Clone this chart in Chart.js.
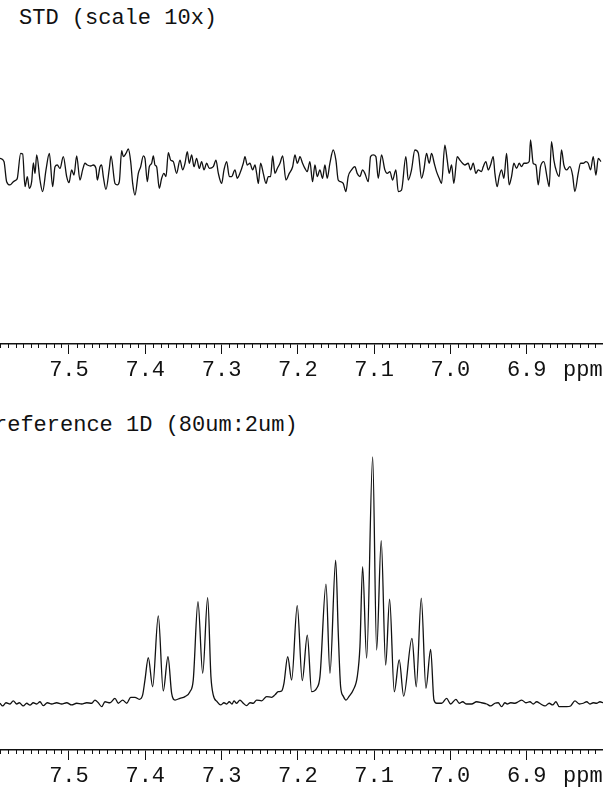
<!DOCTYPE html>
<html>
<head>
<meta charset="utf-8">
<script src="https://cdn.jsdelivr.net/npm/chart.js@4/dist/chart.umd.min.js"></script>
<style>
  html, body { margin: 0; padding: 0; background: #fff; }
  body { width: 603px; height: 788px; position: relative; overflow: hidden; }
  canvas { position: absolute; left: 0; }
  .lbl { position: absolute; font-family: 'Liberation Mono', 'Courier New', monospace; font-size: 22px; line-height: 1; color: #111; white-space: pre; }
</style>
</head>
<body>
<div class="lbl" style="left:19px; top:8px;">STD (scale 10x)</div>
<canvas id="stdChart" width="603" height="390" style="top:0px;"></canvas>
<div class="lbl" style="left:563px; top:360px;">ppm</div>

<div class="lbl" style="left:-6px; top:415px;">reference 1D (80um:2um)</div>
<canvas id="refChart" width="603" height="390" style="top:406px;"></canvas>
<div class="lbl" style="left:563px; top:766px;">ppm</div>

<script>
'use strict';

/* ---- DATA ------------------------------------------------- */
// axis ticks (ppm, reversed axis)
const majorTicks = [7.5, 7.4, 7.3, 7.2, 7.1, 7.0, 6.9];
const ppmMin = 6.80;
const ppmMax = 7.5904;

// STD difference spectrum, scaled 10x (ppm / relative intensity)
const stdPpm = [
  7.5904, 7.5852, 7.5817, 7.5773, 7.5729, 7.5694, 7.5677, 7.5633, 7.5607, 7.5576,
  7.5546, 7.5520, 7.5489, 7.5467, 7.5445, 7.5423, 7.5380, 7.5345, 7.5301, 7.5257,
  7.5214, 7.5183, 7.5153, 7.5118, 7.5074, 7.5030, 7.5000, 7.4965, 7.4934, 7.4899,
  7.4856, 7.4821, 7.4790, 7.4759, 7.4716, 7.4681, 7.4646, 7.4628, 7.4593, 7.4572,
  7.4550, 7.4515, 7.4471, 7.4449, 7.4397, 7.4366, 7.4340, 7.4309, 7.4288, 7.4253,
  7.4222, 7.4191, 7.4165, 7.4135, 7.4091, 7.4060, 7.4025, 7.4004, 7.3973, 7.3947,
  7.3916, 7.3894, 7.3873, 7.3851, 7.3816, 7.3785, 7.3755, 7.3728, 7.3698, 7.3667,
  7.3632, 7.3589, 7.3545, 7.3510, 7.3479, 7.3449, 7.3423, 7.3392, 7.3361, 7.3327,
  7.3292, 7.3261, 7.3230, 7.3195, 7.3160, 7.3108, 7.3073, 7.3042, 7.2999, 7.2968,
  7.2933, 7.2898, 7.2868, 7.2824, 7.2794, 7.2759, 7.2715, 7.2693, 7.2663, 7.2628,
  7.2593, 7.2562, 7.2540, 7.2518, 7.2488, 7.2453, 7.2418, 7.2387, 7.2357, 7.2330,
  7.2300, 7.2269, 7.2234, 7.2199, 7.2156, 7.2112, 7.2068, 7.2038, 7.2007, 7.1981,
  7.1973, 7.1938, 7.1907, 7.1877, 7.1842, 7.1807, 7.1776, 7.1746, 7.1711, 7.1676,
  7.1645, 7.1615, 7.1580, 7.1536, 7.1501, 7.1471, 7.1440, 7.1405, 7.1370, 7.1340,
  7.1296, 7.1252, 7.1222, 7.1187, 7.1152, 7.1121, 7.1077, 7.1047, 7.1012, 7.0977,
  7.0946, 7.0903, 7.0859, 7.0828, 7.0793, 7.0758, 7.0715, 7.0684, 7.0641, 7.0584,
  7.0553, 7.0510, 7.0466, 7.0422, 7.0378, 7.0348, 7.0313, 7.0278, 7.0247, 7.0212,
  7.0182, 7.0147, 7.0116, 7.0073, 7.0042, 7.0016, 6.9985, 6.9955, 6.9911, 6.9876,
  6.9841, 6.9811, 6.9767, 6.9736, 6.9701, 6.9666, 6.9636, 6.9592, 6.9570, 6.9535,
  6.9505, 6.9474, 6.9439, 6.9417, 6.9387, 6.9361, 6.9330, 6.9299, 6.9264, 6.9230,
  6.9199, 6.9168, 6.9133, 6.9098, 6.9068, 6.9037, 6.9002, 6.8967, 6.8950, 6.8915,
  6.8880, 6.8849, 6.8819, 6.8775, 6.8731, 6.8705, 6.8675, 6.8644, 6.8609, 6.8574,
  6.8544, 6.8513, 6.8478, 6.8434, 6.8399, 6.8369, 6.8325, 6.8294, 6.8259, 6.8224,
  6.8194, 6.8163, 6.8128, 6.8093, 6.8062, 6.8027
];
const stdInt = [
   2.7,  1.4, -6.8, -8.1, -6.8, -6.1, -5.4,  4.7,  4.5, -8.8,
  -4.7, -9.5, -6.8,  0.9, -3.4,  4.1, -6.1,-10.8, -2.0,  4.7,
  -8.8, -0.7,  0.0, -1.4,  3.4, -4.7, -7.2, -2.0, -4.1,  3.7,
  -6.1, -2.0,  0.7,  0.0, -0.4,  0.0, -1.4, -6.1, -0.7,  0.0,
  -4.7, -9.9, -1.4,  3.7, -7.5, -8.1, -6.8,  5.8,  3.4,  4.7,
   6.5,  1.4, -7.5,-12.2, -3.4, -0.7,  3.7,  2.7, -6.8, -0.7,
   0.7,  3.7,  0.0, -0.7, -9.5, -5.4, -3.4, -4.7,  5.0,  2.0,
   1.4, -3.4,  2.0, -2.0,  0.7,  5.4,  0.7,  4.1, -0.7,  2.7,
  -1.4,  1.4, -2.0,  0.7, -1.4, -0.7,  2.0, -3.4, -7.5, -2.0,
   1.4, -4.7, -4.7, -2.0, -5.4, -3.4,  0.7,  3.4,  0.0,  0.7,
  -2.0,  0.0, -3.4, -7.5,  0.7, -3.4, -7.5, -4.7, -4.7,  3.7,
  -3.4, -1.4,  0.7,  3.7, -6.1, -3.4, -0.7,  4.1,  0.7,  2.7,
   3.4,  0.7, -1.4, -2.7,  1.4, -6.8,  0.0, -4.7, -2.0, -5.4,
   0.0, -5.4,  0.7,  6.1,  2.0, -6.1, -6.8, -7.5,-10.8, -4.7,
  -2.0, -0.7, -3.4, -4.7, -2.0, -3.4, -6.8,  3.4,  4.1,  3.4,
  -5.4,  4.1, -2.0, -3.4, -2.7, -6.1, -2.0,-10.8,-10.2,  3.4,
  -6.1, -2.0,  6.1,  5.0, -5.4, -2.0,  4.7,  0.7,  4.7,  0.7,
  -2.7, -5.4, -7.5,  8.1,  2.0, -3.4,  0.0, -7.5,  3.4,  2.0,
   0.7,  0.0,  0.7, -2.0,  0.7, -3.4, -2.0, -2.7, -0.7,  1.4,
  -2.0,  0.0,  3.4, -3.4, -8.8, -4.7, -2.0, -5.4,  4.7, -8.1,
  -4.7,  0.7, -1.4,  0.7, -0.7,  0.7,  0.7,  1.4, 10.2,  0.7,
   0.0, -8.1, -0.7,  1.4, -5.4, -8.8,  9.5,  2.0, -2.7, -4.7,
   6.1,  0.0, -2.0, -0.7, -4.1,-10.8, -3.4,  0.7,  0.7,  1.4,
   0.7, -2.0,  3.4, -4.1,  2.7,  1.4
];

// reference 1D spectrum (ppm / relative intensity, tallest peak = 100)
const refPpm = [
  7.5904, 7.5869, 7.5825, 7.5773, 7.5730, 7.5685, 7.5651, 7.5599, 7.5554, 7.5511,
  7.5468, 7.5423, 7.5380, 7.5337, 7.5284, 7.5226, 7.5161, 7.5095, 7.5030, 7.4964,
  7.4899, 7.4833, 7.4768, 7.4702, 7.4659, 7.4616, 7.4571, 7.4528, 7.4462, 7.4397,
  7.4354, 7.4296, 7.4243, 7.4191, 7.4135, 7.4078, 7.4034, 7.4004, 7.3960, 7.3903,
  7.3829, 7.3764, 7.3702, 7.3654, 7.3610, 7.3545, 7.3479, 7.3414, 7.3371, 7.3309,
  7.3247, 7.3182, 7.3139, 7.3109, 7.3056, 7.3012, 7.2968, 7.2933, 7.2899, 7.2863,
  7.2837, 7.2802, 7.2759, 7.2715, 7.2671, 7.2627, 7.2584, 7.2540, 7.2474, 7.2409,
  7.2343, 7.2300, 7.2257, 7.2212, 7.2182, 7.2133, 7.2081, 7.2008, 7.1942, 7.1876,
  7.1819, 7.1753, 7.1710, 7.1631, 7.1579, 7.1504, 7.1470, 7.1439, 7.1405, 7.1369,
  7.1326, 7.1274, 7.1221, 7.1186, 7.1151, 7.1098, 7.1019, 7.0967, 7.0907, 7.0849,
  7.0797, 7.0736, 7.0671, 7.0613, 7.0504, 7.0448, 7.0382, 7.0321, 7.0259, 7.0216,
  7.0181, 7.0115, 7.0050, 6.9997, 6.9928, 6.9884, 6.9840, 6.9788, 6.9722, 6.9657,
  6.9591, 6.9526, 6.9473, 6.9417, 6.9373, 6.9329, 6.9286, 6.9255, 6.9211, 6.9154,
  6.9111, 6.9066, 6.9010, 6.8958, 6.8914, 6.8870, 6.8817, 6.8761, 6.8705, 6.8660,
  6.8617, 6.8574, 6.8529, 6.8477, 6.8424, 6.8368, 6.8311, 6.8259, 6.8214, 6.8171,
  6.8128, 6.8084, 6.8040, 6.8000
];
const refInt = [
  -0.1, -1.2,  0.1, -0.4,  0.9, -0.4,  0.1, -1.2, -0.1, -0.9,
   0.1, -0.4,  0.5, -1.1,  0.1, -0.4,  0.1, -0.4,  0.1, -0.8,
  -0.1, -0.4,  0.1, -0.1,  1.2,  0.1, -1.5,  0.5,  0.1,  1.9,
  -0.1,  1.2, -0.1,  2.3,  2.3,  1.5,  3.3,  9.3, 18.4,  6.6,
  35.4,  4.9, 18.8,  3.9,  1.2,  1.9,  2.6,  4.6,  9.3, 41.2,
  12.1, 42.8, 10.7,  3.3,  0.5, -0.8,  0.1, -0.4,  0.5, -0.4,
   0.9, -0.1,  1.2, -0.1, -1.1,  0.1, -0.1,  1.2,  0.9,  2.6,
   2.3,  3.3,  4.6,  4.9,  8.0, 18.8,  9.3, 39.6,  9.1, 27.6,
   4.6,  6.0, 10.7, 48.3, 12.1, 58.1, 28.3,  6.6,  2.8,  1.2,
   2.8,  5.3, 10.7, 22.9, 55.4, 18.2,100.0, 21.5, 66.0, 15.4,
  42.2,  4.6, 17.5,  2.8, 26.3,  6.6, 42.6,  6.0, 21.8,  1.2,
  -0.1, -0.1,  1.9, -0.4,  1.5, -0.1,  0.5, -0.4, -0.4,  0.5,
   0.1, -0.4, -1.2, -0.1,  0.1, -1.5,  0.1, -0.4,  0.1, -0.1,
   0.5,  1.2,  0.1,  0.5, -0.4,  0.5, -0.4, -1.2, -0.1, -0.8,
   0.5, -1.5, -1.5, -1.5, -1.2,  0.9, -0.4, -0.1,  0.5, -0.4,
   0.1, -0.1,  0.5,  0.1
];

/* ---- STYLE ------------------------------------------------ */
const INK = '#111';
const AXIS_FONT = { family: "'Liberation Mono', 'Courier New', monospace", size: 22 };

/* minor ticks every 0.01 ppm, drawn against the x scale */
const minorTicks = {
  id: 'minorTicks',
  afterDraw(chart) {
    const sc = chart.scales.x;
    const ctx = chart.ctx;
    ctx.save();
    ctx.strokeStyle = INK;
    ctx.lineWidth = 1;
    for (let i = Math.ceil(sc.min * 100); i <= Math.floor(sc.max * 100); i++) {
      if (i % 10 === 0) continue;
      const x = Math.round(sc.getPixelForValue(i / 100)) + 0.5;
      ctx.beginPath();
      ctx.moveTo(x, sc.top);
      ctx.lineTo(x, sc.top + 4);
      ctx.stroke();
    }
    ctx.restore();
  }
};

function spectrum(id, xs, ys, yMin, yMax) {
  const pts = xs.map((x, i) => ({ x, y: ys[i] }));
  return new Chart(document.getElementById(id), {
    type: 'line',
    data: {
      datasets: [{
        data: pts,
        borderColor: INK,
        borderWidth: 1.3,
        pointRadius: 0,
        cubicInterpolationMode: 'monotone',
        fill: false
      }]
    },
    options: {
      responsive: false,
      animation: false,
      layout: { padding: 0 },
      plugins: { legend: { display: false }, tooltip: { enabled: false } },
      scales: {
        x: {
          type: 'linear',
          reverse: true,
          min: ppmMin,
          max: ppmMax,
          afterBuildTicks: (s) => { s.ticks = majorTicks.map(v => ({ value: v })); },
          afterFit: (s) => { s.height = 46; },
          ticks: {
            autoSkip: false,
            maxRotation: 0,
            padding: 3,
            color: INK,
            font: AXIS_FONT,
            callback: (v) => Number(v).toFixed(1)
          },
          grid: { drawOnChartArea: false, drawTicks: true, tickLength: 10, tickColor: INK, tickWidth: 1 },
          border: { display: true, color: INK, width: 1.5 }
        },
        y: { display: false, min: yMin, max: yMax }
      }
    },
    plugins: [minorTicks]
  });
}

spectrum('stdChart', stdPpm, stdInt, -72.8, 67.1);
spectrum('refChart', refPpm, refInt, -19.1, 120.7);
</script>
</body>
</html>
